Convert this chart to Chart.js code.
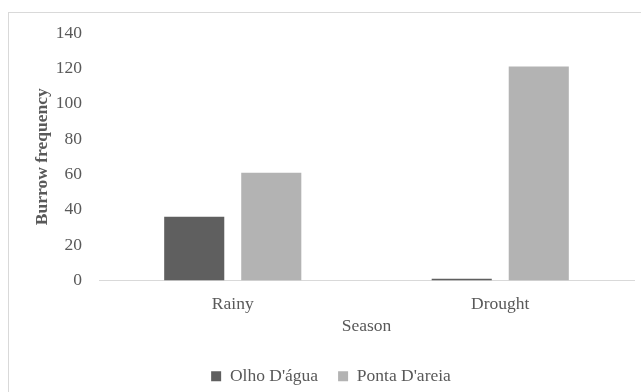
<!DOCTYPE html>
<html>
<head>
<meta charset="utf-8">
<script src="https://cdn.jsdelivr.net/npm/chart.js@4"></script>
<style>
	html, body { margin: 0; padding: 0; background: #ffffff; }
	#wrap { width: 641px; height: 392px; }
</style>
</head>
<body>
<div id="wrap"><canvas id="chart" width="641" height="392"></canvas></div>
<script>
const seasons = ["Rainy", "Drought"];
const olho_dagua = [36, 1];
const ponta_dareia = [61, 121];
const series_names = ["Olho D'água", "Ponta D'areia"];

const text_color = "#595959";
const font_family = "'Liberation Serif', 'Times New Roman', serif";
const font_size = 17.5;

// thin grey frame round the whole chart
const frame_plugin = {
	id: "frame",
	beforeDraw: (chart) => {
		const ctx = chart.ctx;
		ctx.save();
		ctx.strokeStyle = "#d9d9d9";
		ctx.lineWidth = 1;
		ctx.strokeRect(8.5, 12.5, 660, 420);
		ctx.restore();
	}
};

new Chart(document.getElementById("chart"), {
	type: 'bar',
	data: {
		labels: seasons,
		datasets: [
			{
				label: series_names[0],
				data: olho_dagua,
				backgroundColor: "#5f5f5f",
				categoryPercentage: 0.576,
				barPercentage: 0.78,
			},
			{
				label: series_names[1],
				data: ponta_dareia,
				backgroundColor: "#b3b3b3",
				categoryPercentage: 0.576,
				barPercentage: 0.78,
			}
		]
	},
	options: {
		responsive: false,
		animation: false,
		layout: { padding: { left: 28, right: 7, top: 33, bottom: -3 } },
		plugins: {
			tooltip: { enabled: false },
			legend: {
				position: 'bottom',
				labels: {
					color: text_color,
					font: { family: font_family, size: font_size },
					boxWidth: 10,
					boxHeight: 10,
					padding: 20,
				}
			}
		},
		scales: {
			x: {
				grid: { display: false, drawTicks: false },
				border: { display: true, color: "#d9d9d9", width: 1 },
				ticks: { color: text_color, font: { family: font_family, size: font_size }, padding: 13 },
				title: {
					display: true,
					text: "Season",
					color: text_color,
					font: { family: font_family, size: font_size },
					padding: { top: 4, bottom: 11 }
				},
				afterFit: (scale) => { scale.height = 67; }
			},
			y: {
				min: 0,
				max: 140,
				grid: { display: false, drawTicks: false },
				border: { display: false },
				ticks: { stepSize: 20, color: text_color, font: { family: font_family, size: font_size }, padding: 17 },
				title: {
					display: true,
					text: "Burrow frequency",
					color: text_color,
					font: { family: font_family, size: font_size, weight: 'bold' },
					padding: { top: 4, bottom: 4 }
				},
				afterFit: (scale) => { scale.width = 71; }
			}
		}
	},
	plugins: [frame_plugin]
});
</script>
</body>
</html>
